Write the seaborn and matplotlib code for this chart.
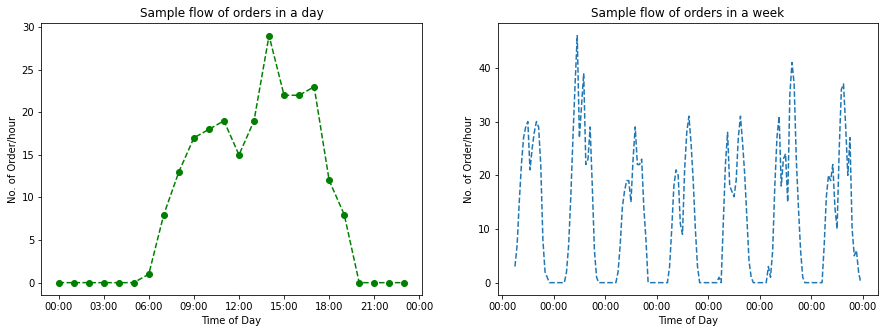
import matplotlib
matplotlib.use("Agg")
import matplotlib.pyplot as plt
import matplotlib.dates as mdates
import seaborn as sns
import pandas as pd

# ---- data ----
day_hours = list(range(24))
day_orders = [0, 0, 0, 0, 0, 0, 1, 8, 13, 17, 18, 19, 15, 19, 29, 22, 22, 23, 12, 8, 0, 0, 0, 0]

week_start = "2021-01-04 06:00"
week_day0 = [3, 7, 15, 22, 27, 29, 30, 21, 25, 28, 30, 29, 22, 8, 2, 1, 0, 0]
week_day1 = [0, 0, 0, 0, 0, 0, 2, 7, 16, 27, 37, 46, 27, 33, 39, 22, 23, 29, 18, 6, 1, 0, 0, 0]
week_day2 = [0, 0, 0, 0, 0, 0, 2, 7, 14, 17, 19, 19, 15, 23, 29, 22, 22, 23, 14, 8, 0, 0, 0, 0]
week_day3 = [0, 0, 0, 0, 0, 0, 3, 10, 18, 21, 20, 11, 9, 21, 28, 31, 26, 19, 10, 3, 0, 0, 0, 0]
week_day4 = [0, 0, 0, 0, 0, 1, 0, 11, 22, 28, 18, 17, 16, 19, 27, 31, 26, 20, 12, 4, 1, 0, 0, 0]
week_day5 = [0, 0, 0, 0, 3, 1, 6, 18, 27, 31, 18, 23, 24, 15, 35, 41, 37, 23, 14, 6, 1, 0, 0, 0]
week_day6 = [0, 0, 0, 0, 0, 0, 7, 16, 20, 19, 22, 14, 10, 25, 36, 37, 29, 20, 27, 10, 5, 6, 2, 0]

titles = ["Sample flow of orders in a day", "Sample flow of orders in a week"]
xlabel = "Time of Day"
ylabel = "No. of Order/hour"

# ---- build frames ----
day_df = pd.DataFrame({
    "time": pd.Timestamp("2021-01-04") + pd.to_timedelta(day_hours, unit="h"),
    "orders": day_orders,
})
week_orders = week_day0 + week_day1 + week_day2 + week_day3 + week_day4 + week_day5 + week_day6
week_df = pd.DataFrame({
    "time": pd.date_range(week_start, periods=len(week_orders), freq="h"),
    "orders": week_orders,
})

W, H, DPI = 885, 333, 72
fig, axes = plt.subplots(1, 2, figsize=(W / DPI, H / DPI), dpi=DPI)
fig.subplots_adjust(left=41.3 / W, right=878 / W, bottom=1 - 295 / H, top=1 - 23.3 / H, wspace=0.2)

ax = axes[0]
sns.lineplot(data=day_df, x="time", y="orders", ax=ax, color="green", linestyle="--",
             marker="o", markersize=6, markeredgecolor="green", markeredgewidth=1, linewidth=1.5)
ax.set_title(titles[0])

ax = axes[1]
sns.lineplot(data=week_df, x="time", y="orders", ax=ax, color="#1f77b4", linestyle="--", linewidth=1.5)
ax.set_title(titles[1])

for ax in axes:
    ax.set_xlabel(xlabel)
    ax.set_ylabel(ylabel)
    ax.xaxis.set_major_formatter(mdates.DateFormatter("%H:%M"))

fig.savefig("out.png", dpi=DPI)
